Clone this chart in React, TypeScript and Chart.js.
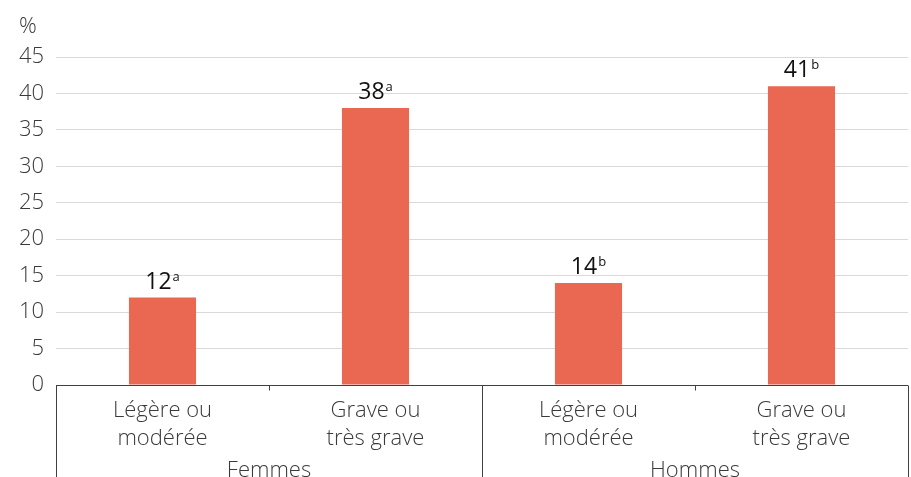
import React, { useEffect, useRef } from "react";
import { Chart, registerables } from "chart.js";

Chart.register(...registerables);

const groups = ["Femmes", "Hommes"];
const subLabels = [["Légère ou", "modérée"], ["Grave ou", "très grave"], ["Légère ou", "modérée"], ["Grave ou", "très grave"]];
const categories = ["Femmes – Légère ou modérée", "Femmes – Grave ou très grave", "Hommes – Légère ou modérée", "Hommes – Grave ou très grave"];
const values = [12, 38, 14, 41];
const notes = ["a", "a", "b", "b"];
const yTicks = [0, 5, 10, 15, 20, 25, 30, 35, 40, 45];
const unitLabel = "%";

const FONT = "'Open Sans', 'Noto Sans', sans-serif";
const AXIS = "#3a3a3a";

const customPlugin = {
  id: "custom",
  afterDraw(chart: any) {
    const ctx = chart.ctx;
    const area = chart.chartArea;
    const x = chart.scales.x;
    const H = chart.height;
    ctx.save();
    ctx.fillStyle = AXIS;
    ctx.font = `300 22px ${FONT}`;
    ctx.textAlign = "left";
    ctx.textBaseline = "alphabetic";
    ctx.fillText(unitLabel, 19, 33);

    const yb = Math.round(area.bottom) + 0.5;
    ctx.strokeStyle = "#404040";
    ctx.lineWidth = 1;
    ctx.beginPath();
    ctx.moveTo(area.left, yb);
    ctx.lineTo(area.right, yb);
    ctx.stroke();

    const n = categories.length;
    const step = (area.right - area.left) / n;
    for (let i = 0; i <= n; i++) {
      const bx = Math.round(area.left + i * step) + 0.5;
      ctx.beginPath();
      ctx.moveTo(bx, yb);
      ctx.lineTo(bx, i % 2 === 0 ? H : yb + 5);
      ctx.stroke();
    }

    ctx.font = `300 22px ${FONT}`;
    ctx.textAlign = "center";
    for (let i = 0; i < n; i++) {
      const cx = x.getPixelForValue(i);
      ctx.fillText(subLabels[i][0], cx, 417);
      ctx.fillText(subLabels[i][1], cx, 445);
    }
    const perGroup = n / groups.length;
    groups.forEach((g, gi) => {
      const cx = area.left + (gi + 0.5) * perGroup * step;
      ctx.fillText(g, cx, 477);
    });

    const meta = chart.getDatasetMeta(0);
    meta.data.forEach((bar: any, i: number) => {
      const main = String(values[i]);
      const sup = notes[i];
      ctx.font = `23px ${FONT}`;
      const w1 = ctx.measureText(main).width;
      ctx.font = `13px ${FONT}`;
      const w2 = ctx.measureText(sup).width;
      const total = w1 + 1 + w2;
      const left = bar.x - total / 2;
      const base = bar.y - 9;
      ctx.fillStyle = "#111111";
      ctx.textAlign = "left";
      ctx.font = `23px ${FONT}`;
      ctx.fillText(main, left, base);
      ctx.font = `13px ${FONT}`;
      ctx.fillText(sup, left + w1 + 1, base - 8);
    });
    ctx.restore();
  },
};

export default function App() {
  const ref = useRef<HTMLCanvasElement | null>(null);
  useEffect(() => {
    document.body.style.margin = "0";
    const chart = new Chart(ref.current as HTMLCanvasElement, {
      type: "bar",
      data: {
        labels: categories,
        datasets: [
          {
            data: values,
            backgroundColor: "#EA6752",
            borderWidth: 0,
            categoryPercentage: 1,
            barPercentage: 0.315,
          },
        ],
      },
      options: {
        animation: false,
        responsive: false,
        maintainAspectRatio: false,
        layout: { padding: { top: 57, bottom: 92, right: 3, left: 0 } },
        plugins: { legend: { display: false }, tooltip: { enabled: false } },
        scales: {
          x: { display: false },
          y: {
            min: 0,
            max: 45,
            afterFit: (s: any) => {
              s.width = 56;
            },
            afterBuildTicks: (s: any) => {
              s.ticks = yTicks.map((v) => ({ value: v }));
            },
            border: { display: false },
            grid: {
              drawTicks: false,
              color: (c: any) => (c.tick && c.tick.value === 0 ? "rgba(0,0,0,0)" : "#d9d9d9"),
              lineWidth: 1,
            },
            ticks: {
              padding: 12,
              color: AXIS,
              font: { family: FONT, size: 22, weight: "300" },
            },
          },
        },
      },
      plugins: [customPlugin],
    });
    return () => chart.destroy();
  }, []);
  return (
    <div style={{ position: "absolute", left: 0, top: 0, width: 911, height: 477 }}>
      <canvas ref={ref} width={911} height={477} />
    </div>
  );
}
